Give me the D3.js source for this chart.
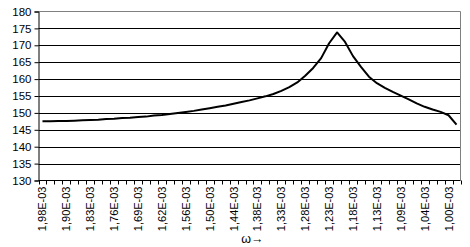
<!DOCTYPE html>
<html><head><meta charset="utf-8">
<script src="https://cdn.jsdelivr.net/npm/d3@7"></script>
<style>
html,body{margin:0;padding:0;background:#fff;}
svg{display:block;font-family:"Liberation Sans",Arial,sans-serif;}
</style></head>
<body><svg id="c" width="470" height="247"></svg>
<script>
// 53 categories; every third one is labelled (Excel style)
const tickLabels = ["1,98E-03","1,90E-03","1,83E-03","1,76E-03","1,69E-03","1,62E-03","1,56E-03","1,50E-03","1,44E-03","1,38E-03","1,33E-03","1,28E-03","1,23E-03","1,18E-03","1,13E-03","1,09E-03","1,04E-03","1,00E-03"];
const values = [147.5,147.5,147.6,147.6,147.7,147.8,147.9,148.0,148.2,148.3,
                148.5,148.6,148.8,148.9,149.2,149.4,149.7,150.0,150.3,150.6,
                151.0,151.4,151.8,152.2,152.7,153.2,153.7,154.3,154.9,155.6,
                156.5,157.6,159.0,161.0,163.3,166.2,170.6,173.8,171.0,166.8,
                163.6,160.7,158.8,157.4,156.2,155.1,154.0,152.8,151.8,151.0,
                150.3,149.3,146.5];
const yTicks = [130,135,140,145,150,155,160,165,170,175,180];
const xTitle = "ω→";

const svg = d3.select("#c");
const L = 38.5, R = 460.5, T = 11.5, B = 180.5;
const idx = d3.range(values.length);
const x = d3.scaleBand().domain(idx).range([L, R]).paddingInner(0).paddingOuter(0);
const y = d3.scaleLinear().domain([130,180]).range([B, T]);

// gridlines
svg.append("g").selectAll("line").data(yTicks.filter(v=>v>130 && v<180)).join("line")
  .attr("x1", L).attr("x2", R).attr("y1", d=>Math.round(y(d))+0.5).attr("y2", d=>Math.round(y(d))+0.5)
  .attr("stroke","#000").attr("stroke-width",1);
// plot border top/right (grey)
svg.append("path").attr("d",`M${L},${T}H${R}V${B}`).attr("fill","none").attr("stroke","#808080");

// y axis
const yAxis = d3.axisLeft(y).tickValues(yTicks).tickSize(4).tickPadding(3).tickFormat(d3.format("d"));
const gy = svg.append("g").attr("transform",`translate(${L},0)`).call(yAxis);
gy.select(".domain").attr("stroke","#000");
gy.selectAll("line").attr("stroke","#000");
gy.selectAll("text").attr("font-size","11.5px").attr("fill","#000").attr("font-family","Liberation Sans, Arial, sans-serif");

// x axis: ticks between categories
const boundaries = d3.range(values.length+1).map(i => L + i*x.bandwidth());
const gx = svg.append("g");
gx.append("line").attr("x1",L).attr("x2",R).attr("y1",B).attr("y2",B).attr("stroke","#000");
gx.selectAll("line.t").data(boundaries).join("line").attr("class","t")
  .attr("x1",d=>Math.round(d)+0.5).attr("x2",d=>Math.round(d)+0.5).attr("y1",B).attr("y2",B+4).attr("stroke","#000");
gx.selectAll("text").data(tickLabels).join("text")
  .attr("transform",(d,i)=>`translate(${x(i*3)+x.bandwidth()/2+4},${B+6}) rotate(-90)`)
  .attr("text-anchor","end").attr("font-size","11px").attr("fill","#000")
  .text(d=>d);

// x title
svg.append("text").attr("x",(L+R)/2+3).attr("y",243).attr("text-anchor","middle")
  .attr("font-size","12.5px").text(xTitle);

// line
const line = d3.line().x((d,i)=>x(i)+x.bandwidth()/2).y(d=>y(d));
svg.append("path").datum(values).attr("d",line).attr("fill","none")
  .attr("stroke","#000").attr("stroke-width",2).attr("stroke-linejoin","round");
</script></body></html>
